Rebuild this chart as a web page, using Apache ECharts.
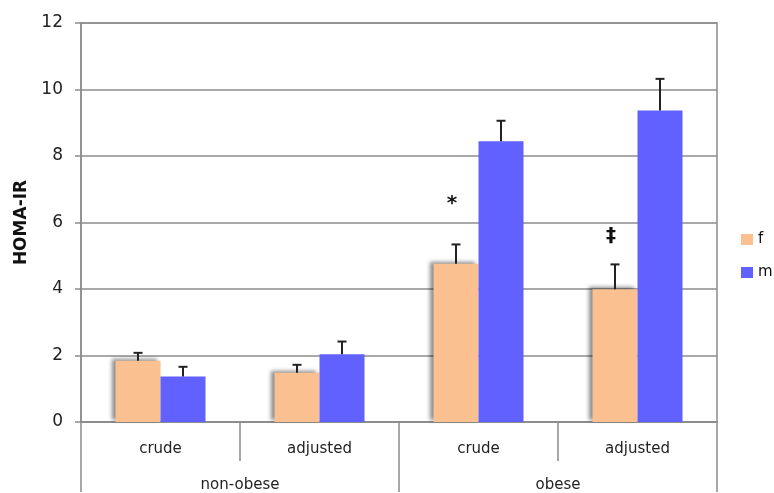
<!DOCTYPE html>
<html>
<head>
<meta charset="utf-8">
<script src="https://cdn.jsdelivr.net/npm/echarts@6/dist/echarts.min.js"></script>
<style>
  html, body { margin: 0; padding: 0; background: #fff; }
  #chart { width: 774px; height: 493px; }
</style>
</head>
<body>
<div id="chart"></div>
<script>
// HOMA-IR by sex, crude and adjusted, for non-obese and obese groups
const subCategories = ['crude', 'adjusted', 'crude', 'adjusted'];
const groups = ['non-obese', 'obese'];
const seriesNames = ['f', 'm'];
const fValues = [1.84, 1.48, 4.76, 3.99];
const mValues = [1.37, 2.04, 8.44, 9.37];
const fErrors = [0.24, 0.24, 0.58, 0.75];
const mErrors = [0.29, 0.38, 0.62, 0.95];
// significance marks over the f bars and the height they sit at
const fNotes = ['', '', '*', '‡'];
const fNoteLevels = [0, 0, 6.55, 5.6];
const yTicks = [0, 2, 4, 6, 8, 10, 12];

const FONT = 'DejaVu Sans';
const BAR_W = 45;
const fColor = '#FAC090';
const mColor = '#6161FF';
const lineGray = '#8c8c8c';

// Upward error whisker with a cap, placed over the bar of one series
function errorBars(values, errors, side, notes, noteLevels) {
  return {
    type: 'custom',
    xAxisIndex: 0,
    yAxisIndex: 0,
    z: 5,
    data: values.map((v, i) => [i, v, v + errors[i], noteLevels ? noteLevels[i] : 0]),
    renderItem: function (params, api) {
      const i = api.value(0);
      const base = api.coord([i, api.value(1)]);
      const top = api.coord([i, api.value(2)]);
      const x = base[0] + side * BAR_W / 2;
      const cap = 4.5;
      const children = [
        { type: 'line', shape: { x1: x, y1: base[1], x2: x, y2: top[1] },
          style: { stroke: '#222', lineWidth: 2 } },
        { type: 'line', shape: { x1: x - cap, y1: top[1], x2: x + cap, y2: top[1] },
          style: { stroke: '#222', lineWidth: 2 } }
      ];
      const note = notes ? notes[params.dataIndex] : '';
      if (note) {
        const at = api.coord([i, api.value(3)]);
        children.push({
          type: 'text',
          x: x - 4,
          y: at[1],
          style: { text: note, fill: '#111', font: 'bold 20px ' + FONT, align: 'center', verticalAlign: 'middle' }
        });
      }
      return { type: 'group', children: children };
    }
  };
}

const chart = echarts.init(document.getElementById('chart'), null, { renderer: 'canvas' });
chart.setOption({
  animation: false,
  backgroundColor: '#fff',
  grid: {
    left: 81, right: 57, top: 23, bottom: 70,
    show: true, borderColor: lineGray, borderWidth: 1.5
  },
  legend: {
    orient: 'vertical',
    left: 741, top: 232,
    padding: 0,
    itemWidth: 12, itemHeight: 11, itemGap: 18,
    icon: 'rect',
    data: seriesNames,
    textStyle: { fontFamily: FONT, fontSize: 15, color: '#111' }
  },
  xAxis: [
    {
      type: 'category',
      data: subCategories,
      position: 'bottom',
      axisLine: { show: true, lineStyle: { color: lineGray, width: 1.5 } },
      axisTick: { show: true, interval: 0, length: 39, lineStyle: { color: lineGray, width: 1.5 } },
      axisLabel: { interval: 0, margin: 20, fontFamily: FONT, fontSize: 15, color: '#222' }
    },
    {
      type: 'category',
      data: groups,
      position: 'bottom',
      axisLine: { show: false },
      axisTick: { show: true, interval: 0, length: 70, lineStyle: { color: lineGray, width: 1.5 } },
      axisLabel: { interval: 0, margin: 56, fontFamily: FONT, fontSize: 15, color: '#222' }
    }
  ],
  yAxis: {
    type: 'value',
    min: yTicks[0], max: yTicks[yTicks.length - 1], interval: 2,
    name: 'HOMA-IR',
    nameLocation: 'middle',
    nameGap: 44,
    nameTextStyle: { fontFamily: FONT, fontSize: 17, fontWeight: 'bold', color: '#111' },
    axisLine: { show: true, lineStyle: { color: lineGray, width: 1.5 } },
    axisTick: { show: true, length: 6, lineStyle: { color: lineGray, width: 1.5 } },
    axisLabel: { margin: 18, fontFamily: FONT, fontSize: 17, color: '#222' },
    splitLine: { show: true, lineStyle: { color: lineGray, width: 1.5 } }
  },
  series: [
    {
      name: seriesNames[0], type: 'bar', data: fValues,
      barWidth: BAR_W, barGap: '0%',
      itemStyle: {
        color: fColor,
        shadowColor: 'rgba(0,0,0,0.45)', shadowBlur: 4, shadowOffsetX: -4, shadowOffsetY: -2
      }
    },
    {
      name: seriesNames[1], type: 'bar', data: mValues,
      barWidth: BAR_W, barGap: '0%',
      itemStyle: { color: mColor }
    },
    errorBars(fValues, fErrors, -1, fNotes, fNoteLevels),
    errorBars(mValues, mErrors, 1, null, null)
  ]
});
</script>
</body>
</html>
